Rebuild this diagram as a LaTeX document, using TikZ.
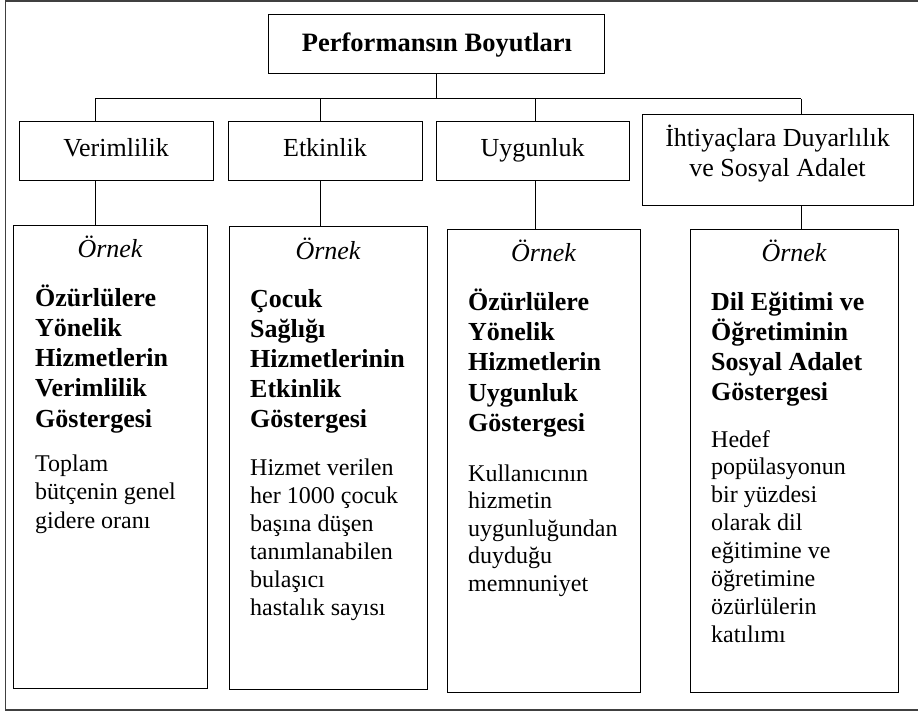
\documentclass[tikz,border=0pt]{standalone}
\usepackage{fontspec}
\setmainfont{Liberation Serif}
\begin{document}
\begin{tikzpicture}[x=1pt,y=-1pt,
  box/.style={draw=black, line width=1pt, inner sep=0pt, outer sep=0pt},
  conn/.style={draw=black, line width=1pt},
  frame/.style={draw=black!75, line width=1.5pt},
  lvltwo/.style={font=\fontsize{26}{30}\selectfont, anchor=base, inner sep=0pt},
  ttl/.style={font=\fontsize{26.5}{30}\selectfont\bfseries, anchor=base, inner sep=0pt},
  ornek/.style={font=\fontsize{26}{30}\selectfont\itshape, anchor=base, inner sep=0pt},
  boldln/.style={font=\fontsize{26}{30}\selectfont\bfseries, anchor=base west, inner sep=0pt},
  regln/.style={font=\fontsize{24}{28}\selectfont, anchor=base west, inner sep=0pt},
]
\useasboundingbox (0,0) rectangle (918,711);
\fill[white] (0,0) rectangle (918,711);
\draw[frame] (919,1.2) -- (5.5,1.2) -- (5.5,710) -- (919,710);

% top box
\node[box, minimum width=336pt, minimum height=59pt] (top) at (436,44.5) {};
\node[ttl] (toptxt) at (437,52) {Performansın Boyutları};

% level two
\node[box, minimum width=194pt, minimum height=59pt] (v) at (116,151.5) {};
\node[lvltwo] (vt) at (116,157) {Verimlilik};
\node[box, minimum width=194pt, minimum height=59pt] (e) at (325,151.5) {};
\node[lvltwo] (et) at (325,157) {Etkinlik};
\node[box, minimum width=193pt, minimum height=59pt] (u) at (532.5,151.5) {};
\node[lvltwo] (ut) at (532.5,157) {Uygunluk};
\node[box, minimum width=271pt, minimum height=91pt] (i) at (777.5,160.5) {};
\node[lvltwo] (it1) at (777.5,147) {İhtiyaçlara Duyarlılık};
\node[lvltwo] (it2) at (777.5,177) {ve Sosyal Adalet};

% level three boxes
\node[box, minimum width=194pt, minimum height=462pt] (b1) at (110,457) {};
\node[box, minimum width=198pt, minimum height=462pt] (b2) at (328,458) {};
\node[box, minimum width=193pt, minimum height=462pt] (b3) at (543.5,461) {};
\node[box, minimum width=208pt, minimum height=462pt] (b4) at (794,461) {};

% connectors
\coordinate (j1) at (95,99);
\coordinate (j2) at (320,99);
\coordinate (j3) at (535,99);
\coordinate (j4) at (801,99);
\draw[conn] (top.south) -- (top.south |- j1);
\draw[conn] (j1) -- (j4);
\draw[conn] (j1) -- (j1 |- v.north);
\draw[conn] (j2) -- (j2 |- e.north);
\draw[conn] (j3) -- (j3 |- u.north);
\draw[conn] (j4) -- (j4 |- i.north);
\draw[conn] (j1 |- v.south) -- (j1 |- b1.north);
\draw[conn] (j2 |- e.south) -- (j2 |- b2.north);
\draw[conn] (j3 |- u.south) -- (j3 |- b3.north);
\draw[conn] (j4 |- i.south) -- (j4 |- b4.north);

% box 1
\node[ornek] (o1) at (110,258) {Örnek};
\foreach \t [count=\k from 0] in {Özürlülere,Yönelik,Hizmetlerin,Verimlilik,Göstergesi}
  \node[boldln] (bb1\k) at (35,{306+30.3*\k}) {\t};
\foreach \t [count=\k from 0] in {Toplam,bütçenin genel,gidere oranı}
  \node[regln] (rb1\k) at (35,{471+28.5*\k}) {\t};

% box 2
\node[ornek] (o2) at (328,260) {Örnek};
\foreach \t [count=\k from 0] in {Çocuk,Sağlığı,Hizmetlerinin,Etkinlik,Göstergesi}
  \node[boldln] (bb2\k) at (250,{307+30*\k}) {\t};
\foreach \t [count=\k from 0] in {Hizmet verilen,her 1000 çocuk,başına düşen,tanımlanabilen,bulaşıcı,hastalık sayısı}
  \node[regln] (rb2\k) at (250,{475+28*\k}) {\t};

% box 3
\node[ornek] (o3) at (543.5,262) {Örnek};
\foreach \t [count=\k from 0] in {Özürlülere,Yönelik,Hizmetlerin,Uygunluk,Göstergesi}
  \node[boldln] (bb3\k) at (468,{310+30.4*\k}) {\t};
\foreach \t [count=\k from 0] in {Kullanıcının,hizmetin,uygunluğundan,duyduğu,memnuniyet}
  \node[regln] (rb3\k) at (468,{481+27.5*\k}) {\t};

% box 4
\node[ornek] (o4) at (794,262) {Örnek};
\foreach \t [count=\k from 0] in {Dil Eğitimi ve,Öğretiminin,Sosyal Adalet,Göstergesi}
  \node[boldln] (bb4\k) at (711,{310+30.3*\k}) {\t};
\foreach \t [count=\k from 0] in {Hedef,popülasyonun,bir yüzdesi,olarak dil,eğitimine ve,öğretimine,özürlülerin,katılımı}
  \node[regln] (rb4\k) at (711,{447+27.9*\k}) {\t};
\end{tikzpicture}
\end{document}
